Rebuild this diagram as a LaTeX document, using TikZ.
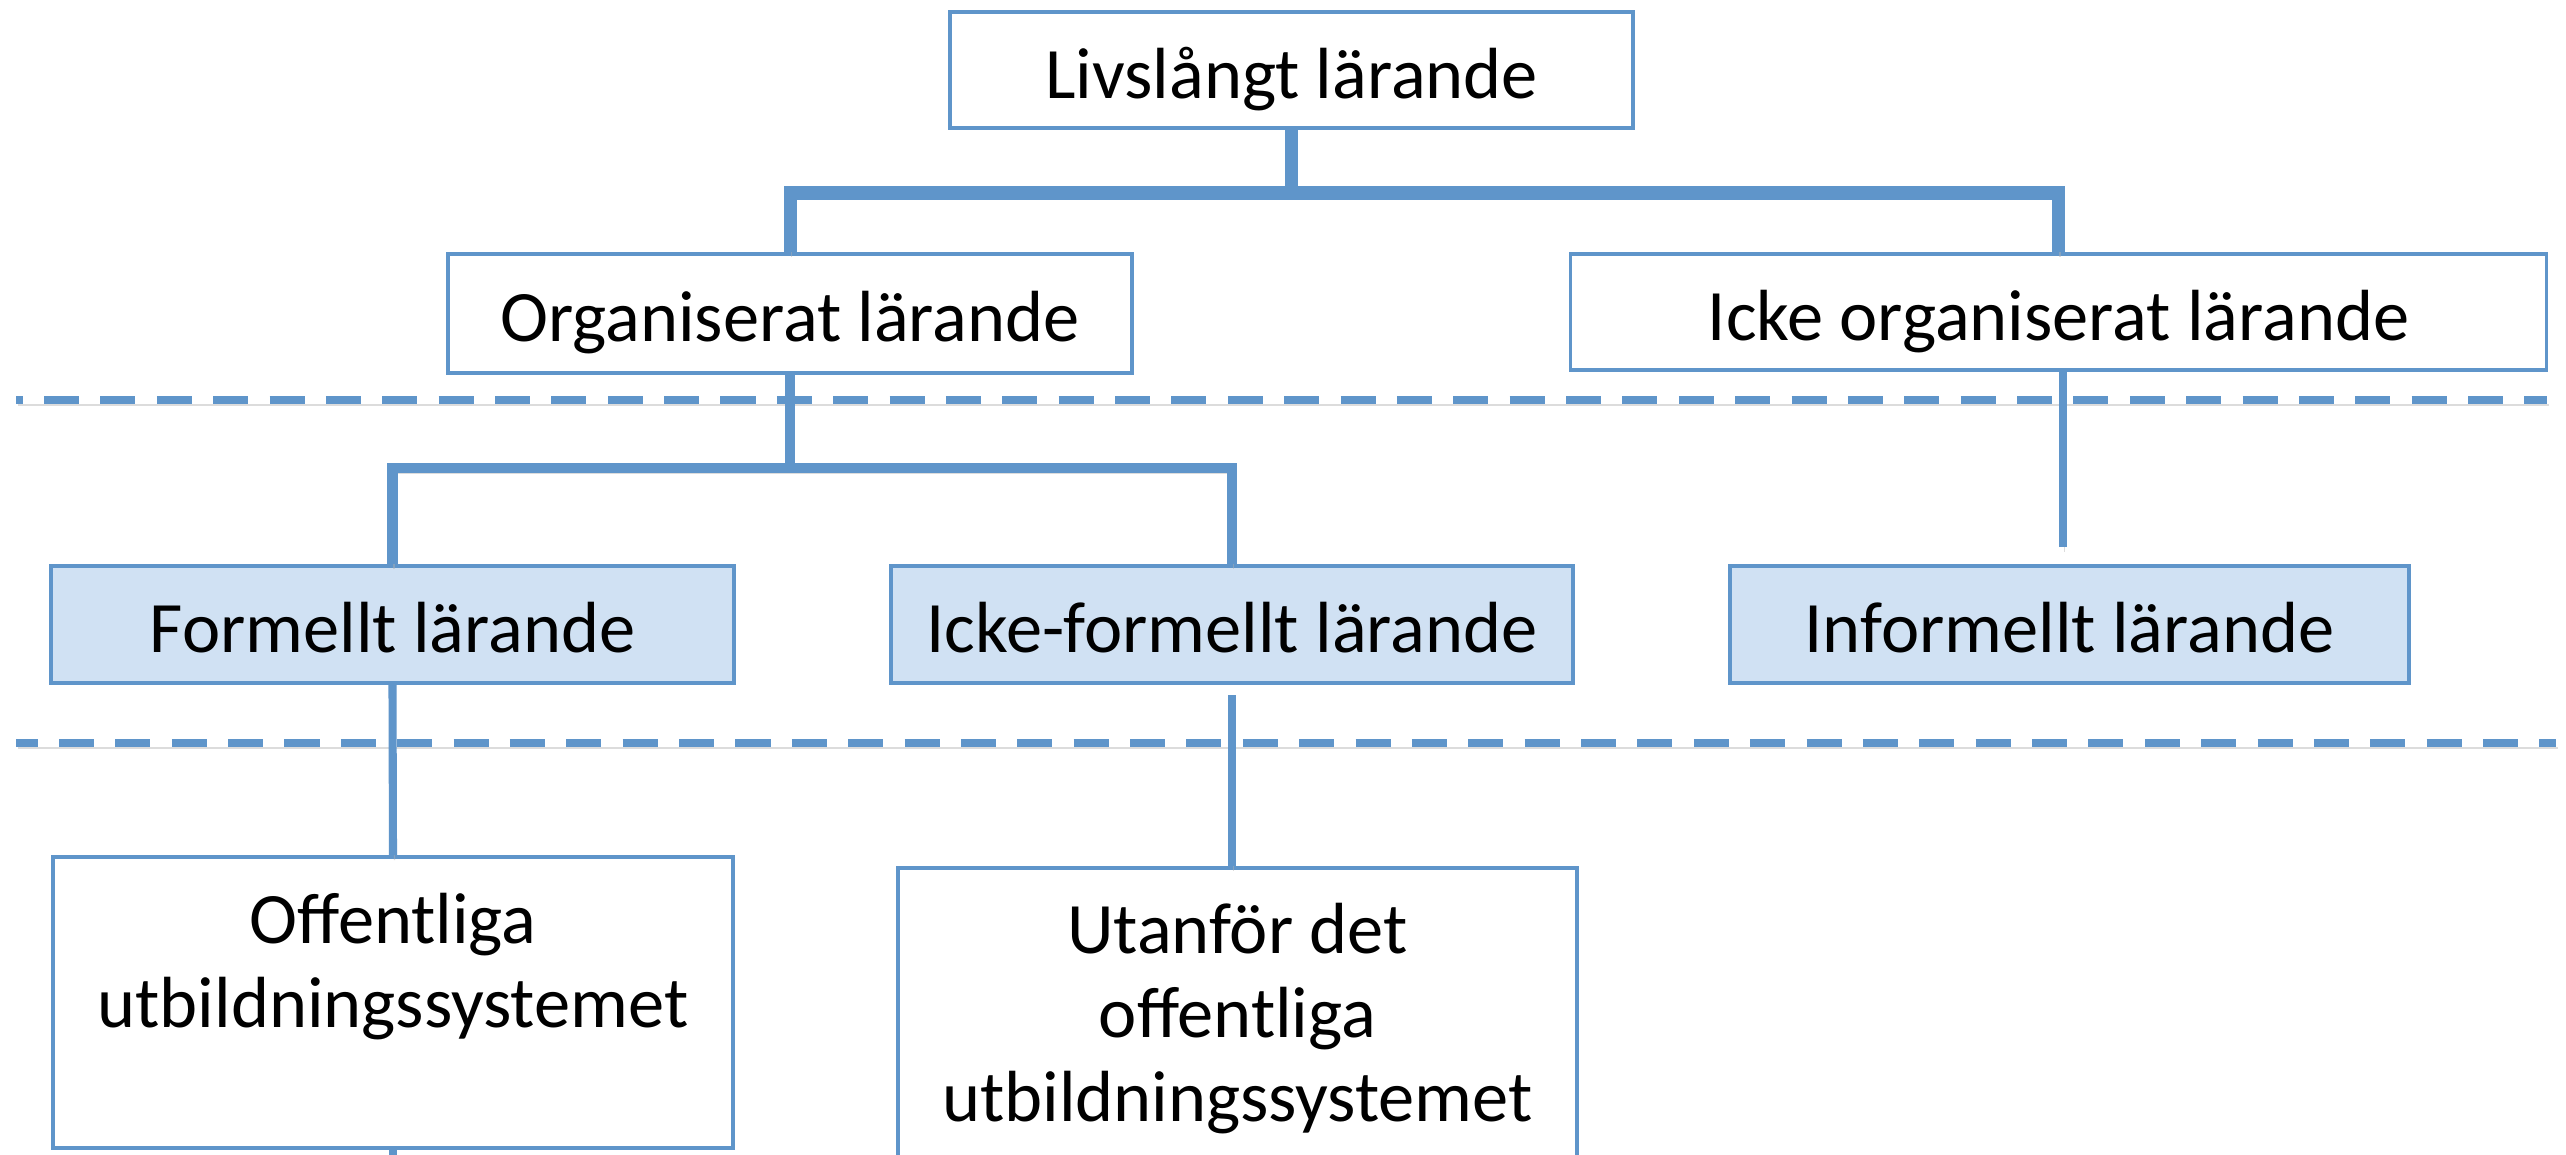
\documentclass[tikz,border=0pt]{standalone}
\usepackage{fontspec}
\setmainfont{Carlito}
\definecolor{lc}{RGB}{95,149,202}
\definecolor{fc}{RGB}{208,225,243}
\begin{document}
\begin{tikzpicture}[x=0.01cm,y=-0.01cm,line join=miter,
  lbox/.style={draw=lc,line width=1pt,inner sep=0pt,font=\fontsize{20.6}{23.9}\selectfont,text height=16pt,text depth=0pt},
  plainbox/.style={lbox,fill=white},
  bluebox/.style={lbox,fill=fc},
  shadowed/.style={preaction={draw=black!30,opacity=0.45,transform canvas={shift={(0.015cm,-0.05cm)}}}},
  connA/.style={draw=lc,line width=3.7pt,shadowed},
  connB/.style={draw=lc,line width=2.85pt,shadowed},
  connC/.style={draw=lc,line width=2.3pt,shadowed},
  sepline/.style={draw=lc,line width=2.3pt,dash pattern=on 9.96pt off 6.07pt,shadowed},
  boxtext/.style={font=\fontsize{20.6}{23.9}\selectfont,align=center,inner sep=0pt,anchor=north}]
\useasboundingbox (0,0) rectangle (2566,1154);
\clip (0,0) rectangle (2566,1154);
\fill[white] (0,0) rectangle (2566,1154);

% separator lines
\coordinate (d1a) at (16,400);
\coordinate (d1b) at (2547,400);
\coordinate (d2a) at (16,743);
\coordinate (d2b) at (2556,743);
\draw[sepline,dash phase=8.06pt] (d1a) -- (d1b);
\draw[sepline,dash phase=3.8pt] (d2a) -- (d2b);

% boxes
\node[plainbox,minimum width=6.83cm,minimum height=1.16cm] (top) at (1291.5,70) {Livslångt lärande};
\node[plainbox,minimum width=6.84cm,minimum height=1.19cm] (org) at (790,313.5) {Organiserat lärande};
\node[plainbox,minimum width=9.75cm,minimum height=1.16cm] (iorg) at (2058.5,312) {Icke organiserat lärande};
\node[bluebox,minimum width=6.83cm,minimum height=1.17cm] (form) at (392.5,624.5) {Formellt lärande};
\node[bluebox,minimum width=6.82cm,minimum height=1.17cm] (iform) at (1232,624.5) {Icke-formellt lärande};
\node[bluebox,minimum width=6.79cm,minimum height=1.17cm] (inf) at (2069.5,624.5) {Informellt lärande};
\node[plainbox,minimum width=6.80cm,minimum height=2.91cm] (off) at (393,1002.5) {};
\node[plainbox,minimum width=6.79cm,minimum height=3.82cm] (utan) at (1237.5,1059) {};
\node[boxtext] (offtxt) at (393,884) {\strut Offentliga\\utbildningssystemet};
\node[boxtext] (utantxt) at (1237.5,894) {\strut Utanför det\\offentliga\\utbildningssystemet};

% connectors
\coordinate (j1) at (1291.5,193);
\draw[connA] (top.south) -- (j1);
\draw[connA] (org.north) |- (j1) -| (iorg.north);
\coordinate (j2) at (790,468);
\draw[connB] (org.south) -- (j2);
\draw[connB] (form.north) |- (j2) -| (iform.north);
\coordinate (c1) at (2063,547);
\draw[connC] (iorg.south -| c1) -- (c1);
\draw[connC] (form.south) -- (off.north);
\coordinate (c2) at (1232,695);
\draw[connC] (c2) -- (c2 |- utan.north);
\coordinate (c3) at (393,1170);
\draw[connC] (off.south) -- (c3);
\end{tikzpicture}
\end{document}
